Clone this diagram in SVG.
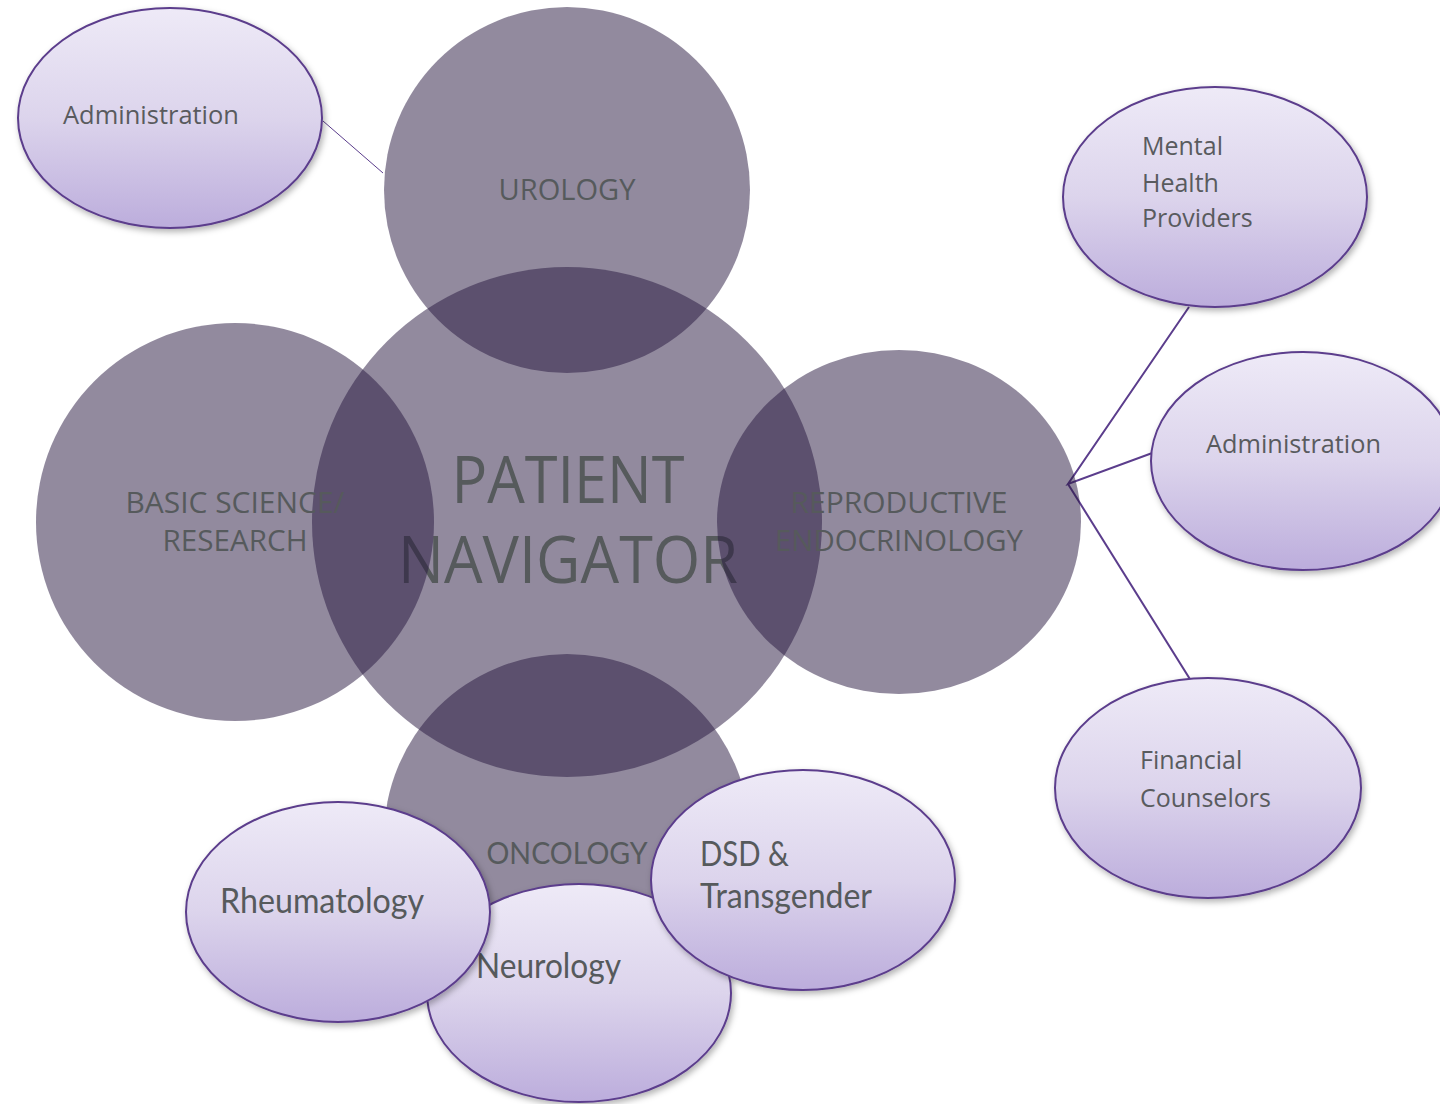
<svg xmlns="http://www.w3.org/2000/svg" width="1440" height="1104" viewBox="0 0 1440 1104">
<defs>
<linearGradient id="lav" x1="0" y1="0" x2="0" y2="1">
<stop offset="0" stop-color="#eeeaf7"/>
<stop offset="0.5" stop-color="#dcd4ec"/>
<stop offset="1" stop-color="#bcaddc"/>
</linearGradient>
<filter id="sh" x="-10%" y="-10%" width="125%" height="130%">
<feDropShadow dx="2" dy="3" stdDeviation="3" flood-color="#000" flood-opacity="0.3"/>
</filter>
</defs>
<style>
.big{fill:#27173f;fill-opacity:0.505}
.sat{fill:url(#lav);stroke:#5b3d8c;stroke-width:2;filter:url(#sh)}
.lbl{font-family:"Open Sans","Noto Sans",sans-serif;fill:#565a5c}
.cal{font-family:Lato,"Open Sans",sans-serif;fill:#565a5c}
.sl{font-family:"Open Sans","Noto Sans",sans-serif;fill:#595b5e;font-size:25px}
.con{stroke:#5b3d8c;fill:none}
</style>
<rect width="1440" height="1104" fill="#fff"/>
<g id="connectors">
<line class="con" x1="323" y1="121" x2="383" y2="173" stroke-width="1"/>
<polyline class="con" points="1189,307 1068,484 1155,452" stroke-width="2"/>
<line class="con" x1="1068" y1="484" x2="1193" y2="684" stroke-width="2"/>
</g>
<g id="urology">
<circle class="big" cx="567" cy="190" r="183"/>
<text class="lbl" x="567" y="200" font-size="30" text-anchor="middle" textLength="137" lengthAdjust="spacingAndGlyphs">UROLOGY</text>
</g>
<g id="oncology">
<circle class="big" cx="567" cy="837" r="183"/>
<text class="cal" x="567" y="864" font-size="30" text-anchor="middle" textLength="161" lengthAdjust="spacingAndGlyphs">ONCOLOGY</text>
</g>
<g id="patient-navigator">
<circle class="big" cx="567" cy="522" r="255"/>
<text class="lbl" x="568" y="503" font-size="65" text-anchor="middle" textLength="233" lengthAdjust="spacingAndGlyphs">PATIENT</text>
<text class="lbl" x="568" y="583" font-size="65" text-anchor="middle" textLength="340" lengthAdjust="spacingAndGlyphs">NAVIGATOR</text>
</g>
<g id="reproductive-endocrinology">
<ellipse class="big" cx="899" cy="522" rx="182" ry="172"/>
<text class="lbl" x="899" y="513" font-size="30" text-anchor="middle" textLength="217" lengthAdjust="spacingAndGlyphs">REPRODUCTIVE</text>
<text class="lbl" x="899" y="551" font-size="30" text-anchor="middle" textLength="248" lengthAdjust="spacingAndGlyphs">ENDOCRINOLOGY</text>
</g>
<g id="basic-science">
<circle class="big" cx="235" cy="522" r="199"/>
<text class="lbl" x="235" y="513" font-size="30" text-anchor="middle" textLength="219" lengthAdjust="spacingAndGlyphs">BASIC SCIENCE/</text>
<text class="lbl" x="235" y="551" font-size="30" text-anchor="middle" textLength="145" lengthAdjust="spacingAndGlyphs">RESEARCH</text>
</g>
<g id="admin-left">
<ellipse class="sat" cx="170" cy="118" rx="152" ry="110"/>
<text class="sl" x="63" y="124" textLength="176" lengthAdjust="spacingAndGlyphs">Administration</text>
</g>
<g id="mental-health">
<ellipse class="sat" cx="1215" cy="197" rx="152" ry="110"/>
<text class="sl" x="1142" y="155">Mental</text>
<text class="sl" x="1142" y="192">Health</text>
<text class="sl" x="1142" y="227">Providers</text>
</g>
<g id="admin-right">
<ellipse class="sat" cx="1303" cy="461" rx="152" ry="109"/>
<text class="sl" x="1206" y="453" textLength="175" lengthAdjust="spacingAndGlyphs">Administration</text>
</g>
<g id="financial">
<ellipse class="sat" cx="1208" cy="788" rx="153" ry="110"/>
<text class="sl" x="1140" y="769">Financial</text>
<text class="sl" x="1140" y="807">Counselors</text>
</g>
<g id="neurology">
<ellipse class="sat" cx="579" cy="993" rx="152" ry="109"/>
<text class="cal" x="476" y="978" font-size="35" textLength="145" lengthAdjust="spacingAndGlyphs">Neurology</text>
</g>
<g id="rheumatology">
<ellipse class="sat" cx="338" cy="912" rx="152" ry="110"/>
<text class="cal" x="220" y="913" font-size="35" textLength="204" lengthAdjust="spacingAndGlyphs">Rheumatology</text>
</g>
<g id="dsd-transgender">
<ellipse class="sat" cx="803" cy="880" rx="152" ry="110"/>
<text class="cal" x="700" y="866" font-size="35" textLength="89" lengthAdjust="spacingAndGlyphs">DSD &amp;</text>
<text class="cal" x="700" y="908" font-size="35" textLength="172" lengthAdjust="spacingAndGlyphs">Transgender</text>
</g>
</svg>
